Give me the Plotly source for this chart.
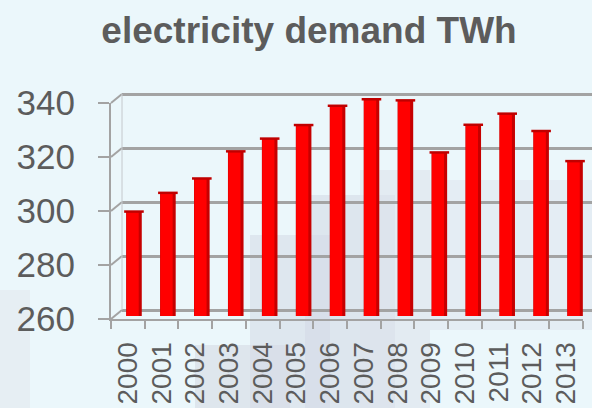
import plotly.graph_objects as go

years = ["2000", "2001", "2002", "2003", "2004", "2005", "2006",
         "2007", "2008", "2009", "2010", "2011", "2012", "2013"]
demand_twh = [298.5, 305.4, 310.7, 320.7, 325.4, 330.4, 337.5,
              339.9, 339.5, 320.3, 330.5, 334.6, 328.2, 317.1]
y_ticks = [260, 280, 300, 320, 340]
title_text = "electricity demand TWh"

W, H = 592, 408
ML, MR, MT, MB = 100, 0, 85, 88
PH = H - MT - MB
PW = W - ML - MR


def clamp(v):
    return max(0.0, min(1.0, v))


def ydom(px_bottom, px_top):
    return [clamp((MT + PH - px_bottom) / PH), clamp((MT + PH - px_top) / PH)]


def xdom(px_left, px_right):
    return [clamp((px_left - ML) / PW), clamp((px_right - ML) / PW)]


def px_x(px):  # page pixel -> shape paper x
    return (px - ML) / PW


def px_y(py):  # page pixel -> shape paper y
    return (MT + PH - py) / PH


GRID = "#a3a3a3"
TXT = "#5c5c5c"
FONT = "Liberation Sans, Arial"
PXU = 2.7  # pixels per TWh

fig = go.Figure()

# front axes (labels)
fig.add_trace(go.Scatter(x=years, y=[None] * len(years), xaxis="x", yaxis="y",
                         showlegend=False, hoverinfo="skip"))

# back-wall grid subplot
fig.add_trace(go.Scatter(x=years, y=[None] * len(years), xaxis="x2", yaxis="y2",
                         showlegend=False, hoverinfo="skip"))

# cylinder-like bars: dark outer, bright core
fig.add_trace(go.Bar(x=years, y=demand_twh, xaxis="x3", yaxis="y3",
                     width=0.46, marker=dict(color="#c60000", line=dict(width=0)),
                     showlegend=False))
fig.add_trace(go.Bar(x=years, y=demand_twh, xaxis="x3", yaxis="y3",
                     width=0.36, offset=-0.22,
                     marker=dict(color="#ff0000", line=dict(width=0)),
                     showlegend=False, hoverinfo="skip"))
# darker top caps
fig.add_trace(go.Scatter(x=years, y=demand_twh, xaxis="x3", yaxis="y3",
                         mode="markers",
                         marker=dict(symbol="line-ew", size=14, color="#c00000",
                                     line=dict(width=2.5, color="#c00000")),
                         showlegend=False, hoverinfo="skip", cliponaxis=False))


def bg_rect(x0, x1, y0, y1, color, op):
    return dict(type="rect", xref="paper", yref="paper",
                x0=px_x(x0), x1=px_x(x1), y0=px_y(y1), y1=px_y(y0),
                fillcolor=color, opacity=op, line=dict(width=0), layer="below")


shapes = [
    # faint background buildings (page pixel boxes)
    bg_rect(250, 330, 235, 408, "#d6dce7", 0.6),
    bg_rect(305, 395, 195, 408, "#d3dae6", 0.6),
    bg_rect(360, 430, 170, 408, "#dde3ec", 0.6),
    bg_rect(430, 592, 180, 330, "#dfe5ee", 0.55),
    bg_rect(195, 290, 345, 408, "#d5dbe5", 0.6),
    bg_rect(0, 30, 290, 408, "#e3e8ef", 0.6),
]
# 3D-frame connectors from front axis to back wall
for i in range(len(y_ticks)):
    y_front = 319 - i * 54
    y_back = 310 - i * 54
    shapes.append(dict(type="line", xref="paper", yref="paper",
                       x0=px_x(111), y0=px_y(y_front), x1=px_x(122), y1=px_y(y_back),
                       line=dict(color=GRID, width=2)))
shapes.append(dict(type="line", xref="paper", yref="paper",
                   x0=px_x(122), y0=px_y(310), x1=px_x(122), y1=px_y(94),
                   line=dict(color="#c4c8cc", width=1)))

fig.update_layout(
    width=W, height=H,
    margin=dict(l=ML, r=MR, t=MT, b=MB, autoexpand=False),
    paper_bgcolor="#ebf7fb",
    plot_bgcolor="rgba(0,0,0,0)",
    title=dict(text="<b>" + title_text + "</b>", x=309 / W, xanchor="center",
               y=1 - 30 / H, yanchor="middle",
               font=dict(family=FONT, size=37, color=TXT)),
    barmode="overlay",
    shapes=shapes,
    xaxis=dict(domain=xdom(111, 111 + 14 * 33.7), range=[-0.5, 13.5], type="category",
               tickmode="linear", dtick=1,
               showgrid=False, showline=True, linecolor=GRID, linewidth=2,
               ticks="outside", tickson="boundaries", ticklen=8, tickcolor=GRID, tickwidth=2,
               tickangle=-90, anchor="y", ticklabelstandoff=10,
               tickfont=dict(family=FONT, size=28, color=TXT)),
    yaxis=dict(domain=ydom(319, 103), range=[260, 340], tickvals=y_ticks,
               showgrid=False, showline=True, linecolor=GRID, linewidth=2,
               ticks="outside", ticklen=11, tickcolor=GRID, tickwidth=2, zeroline=False,
               anchor="x", ticklabelstandoff=16,
               tickfont=dict(family=FONT, size=35, color=TXT)),
    xaxis2=dict(domain=xdom(122, 592), range=[-0.5, 13.5], type="category",
                visible=False, anchor="y2"),
    yaxis2=dict(domain=ydom(310 + 2 * PXU, 94 - 2 * PXU), range=[258, 342], tickvals=y_ticks,
                showgrid=True, gridcolor=GRID, gridwidth=3, showticklabels=False,
                ticks="", zeroline=False, showline=False, anchor="x2"),
    xaxis3=dict(domain=xdom(117, 592), range=[-0.5, 13.5], type="category",
                visible=False, anchor="y3"),
    yaxis3=dict(domain=ydom(316, 99), range=[260, 340], visible=False,
                anchor="x3"),
)

fig.write_html("out.html", config={"displayModeBar": False},
               post_script="document.body.style.margin='0';"
                           "document.body.style.background='#ebf7fb';")
